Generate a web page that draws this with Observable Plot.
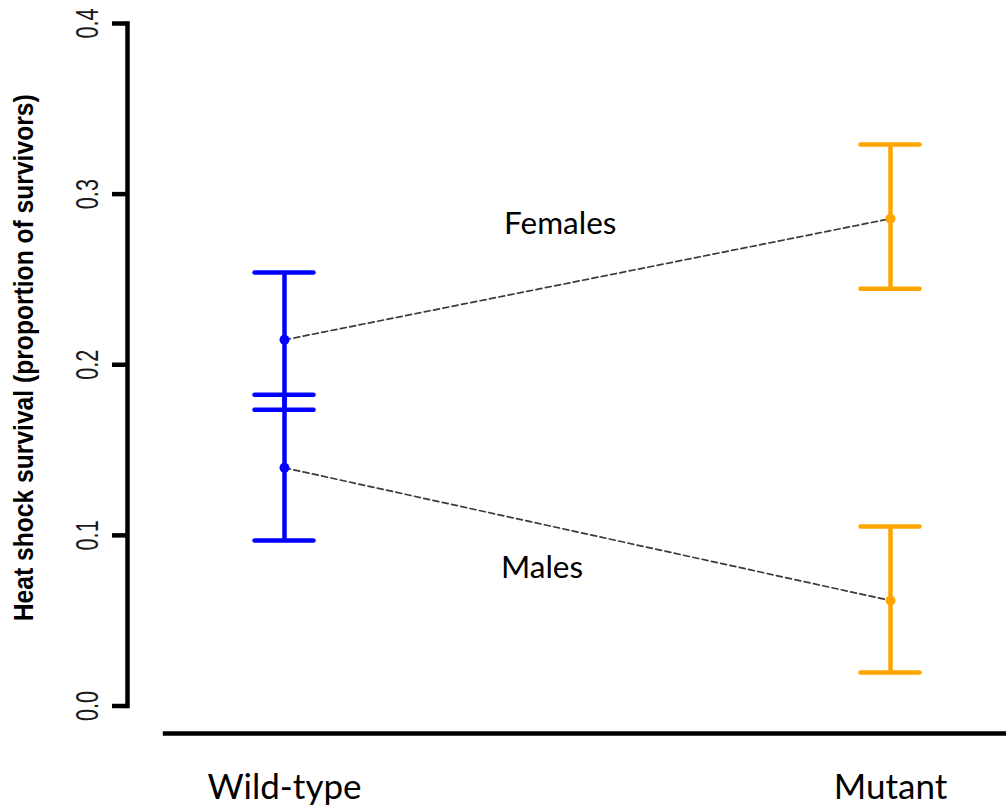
<!DOCTYPE html>
<html>
<head>
<meta charset="utf-8">
<script src="https://cdn.jsdelivr.net/npm/d3@7"></script>
<script src="https://cdn.jsdelivr.net/npm/@observablehq/plot@0.6"></script>
<style>
  html, body { margin: 0; padding: 0; background: #fff; }
  #chart svg { display: block; }
</style>
</head>
<body>
<div id="chart"></div>
<script>
// Genotypes on the x axis and their positions on a 0..1 scale
const groups = ["Wild-type", "Mutant"];
const groupPos = [0, 1];
const groupColors = ["#0000FF", "#FFA500"];

// Heat shock survival: mean and interval per genotype
const sexes = ["Females", "Males"];
const femaleMean = [0.2146, 0.2856];
const femaleLow  = [0.1736, 0.2445];
const femaleHigh = [0.2541, 0.3291];
const maleMean   = [0.1396, 0.0618];
const maleLow    = [0.0970, 0.0196];
const maleHigh   = [0.1824, 0.1052];

// Where the sex labels sit along the connecting lines
const sexLabelX = [0.455, 0.425];
const sexLabelY = [0.2764, 0.0753];

const yTicks = [0, 0.1, 0.2, 0.3, 0.4];
const yTitle = "Heat shock survival (proportion of survivors)";
const xAxisExtent = [-0.2, 1.2];

const series = [
  {sex: sexes[0], mean: femaleMean, low: femaleLow, high: femaleHigh},
  {sex: sexes[1], mean: maleMean, low: maleLow, high: maleHigh}
];
const rows = series.flatMap(s => groups.map((g, i) => ({
  sex: s.sex, group: g, pos: groupPos[i], color: groupColors[i],
  mean: s.mean[i], low: s.low[i], high: s.high[i]
})));
const labelRows = sexes.map((s, i) => ({sex: s, x: sexLabelX[i], y: sexLabelY[i]}));
const groupRows = groups.map((g, i) => ({group: g, pos: groupPos[i]}));

const labelFont = "Lato, 'Open Sans', sans-serif";
const axisFont = "'Liberation Sans', Arial, sans-serif";

const chart = Plot.plot({
  width: 1006,
  height: 808,
  marginLeft: 127,
  marginRight: 0,
  marginTop: 23,
  marginBottom: 102.5,
  style: {background: "#fff"},
  x: {domain: [0, 1], range: [284, 890], axis: null},
  y: {domain: [0, 0.4], axis: null},
  marks: [
    // y axis line and ticks
    Plot.frame({anchor: "left", stroke: "#000", strokeWidth: 4.5}),
    Plot.axisY(yTicks, {
      tickSize: 15, tickPadding: 15, tickRotate: -90,
      stroke: "#000", strokeWidth: 4.5, fill: "#1a1a1a",
      fontSize: 31, fontFamily: axisFont,
      tickFormat: d3.format(".1f")
    }),
    // y axis title
    Plot.text([yTitle], {
      frameAnchor: "left", dx: -95, dy: -7, rotate: -90,
      lineAnchor: "bottom", textAnchor: "middle",
      fontSize: 28, fontWeight: "bold", fontFamily: axisFont, fill: "#000"
    }),
    // x axis line
    Plot.ruleY([0], {x1: xAxisExtent[0], x2: xAxisExtent[1], dy: 27.5, stroke: "#000", strokeWidth: 4.5}),
    // genotype labels
    Plot.text(groupRows, {
      x: "pos", text: "group", frameAnchor: "bottom", dy: 92.5,
      lineAnchor: "bottom", fontSize: 35, fontFamily: labelFont, fill: "#000"
    }),
    // dashed lines joining the means of each sex
    Plot.line(rows, {
      x: "pos", y: "mean", z: "sex",
      stroke: "#3a3a3a", strokeWidth: 1.7, strokeDasharray: "6,3.5"
    }),
    // error bars
    Plot.ruleX(rows, {
      x: "pos", y1: "low", y2: "high",
      stroke: "color", strokeWidth: 4.5
    }),
    Plot.ruleY(rows, {
      y: "low", x1: "pos", x2: "pos", insetLeft: -29.5, insetRight: -29.5,
      stroke: "color", strokeWidth: 4.5, strokeLinecap: "round"
    }),
    Plot.ruleY(rows, {
      y: "high", x1: "pos", x2: "pos", insetLeft: -29.5, insetRight: -29.5,
      stroke: "color", strokeWidth: 4.5, strokeLinecap: "round"
    }),
    Plot.dot(rows, {x: "pos", y: "mean", r: 5, fill: "color", stroke: null}),
    // sex labels
    Plot.text(labelRows, {
      x: "x", y: "y", text: "sex", lineAnchor: "bottom",
      fontSize: 31.5, fontFamily: labelFont, fill: "#000"
    })
  ]
});

document.getElementById("chart").appendChild(chart);

// Vertical axis texts are condensed along their reading direction
d3.select(chart).selectAll("text")
  .filter(function () { return /rotate\(-90\)/.test(this.getAttribute("transform") || ""); })
  .each(function () {
    const t = this.getAttribute("transform");
    const k = this.textContent === yTitle ? 0.88 : 0.7;
    this.setAttribute("transform", t + ` scale(${k},1)`);
  });
</script>
</body>
</html>
